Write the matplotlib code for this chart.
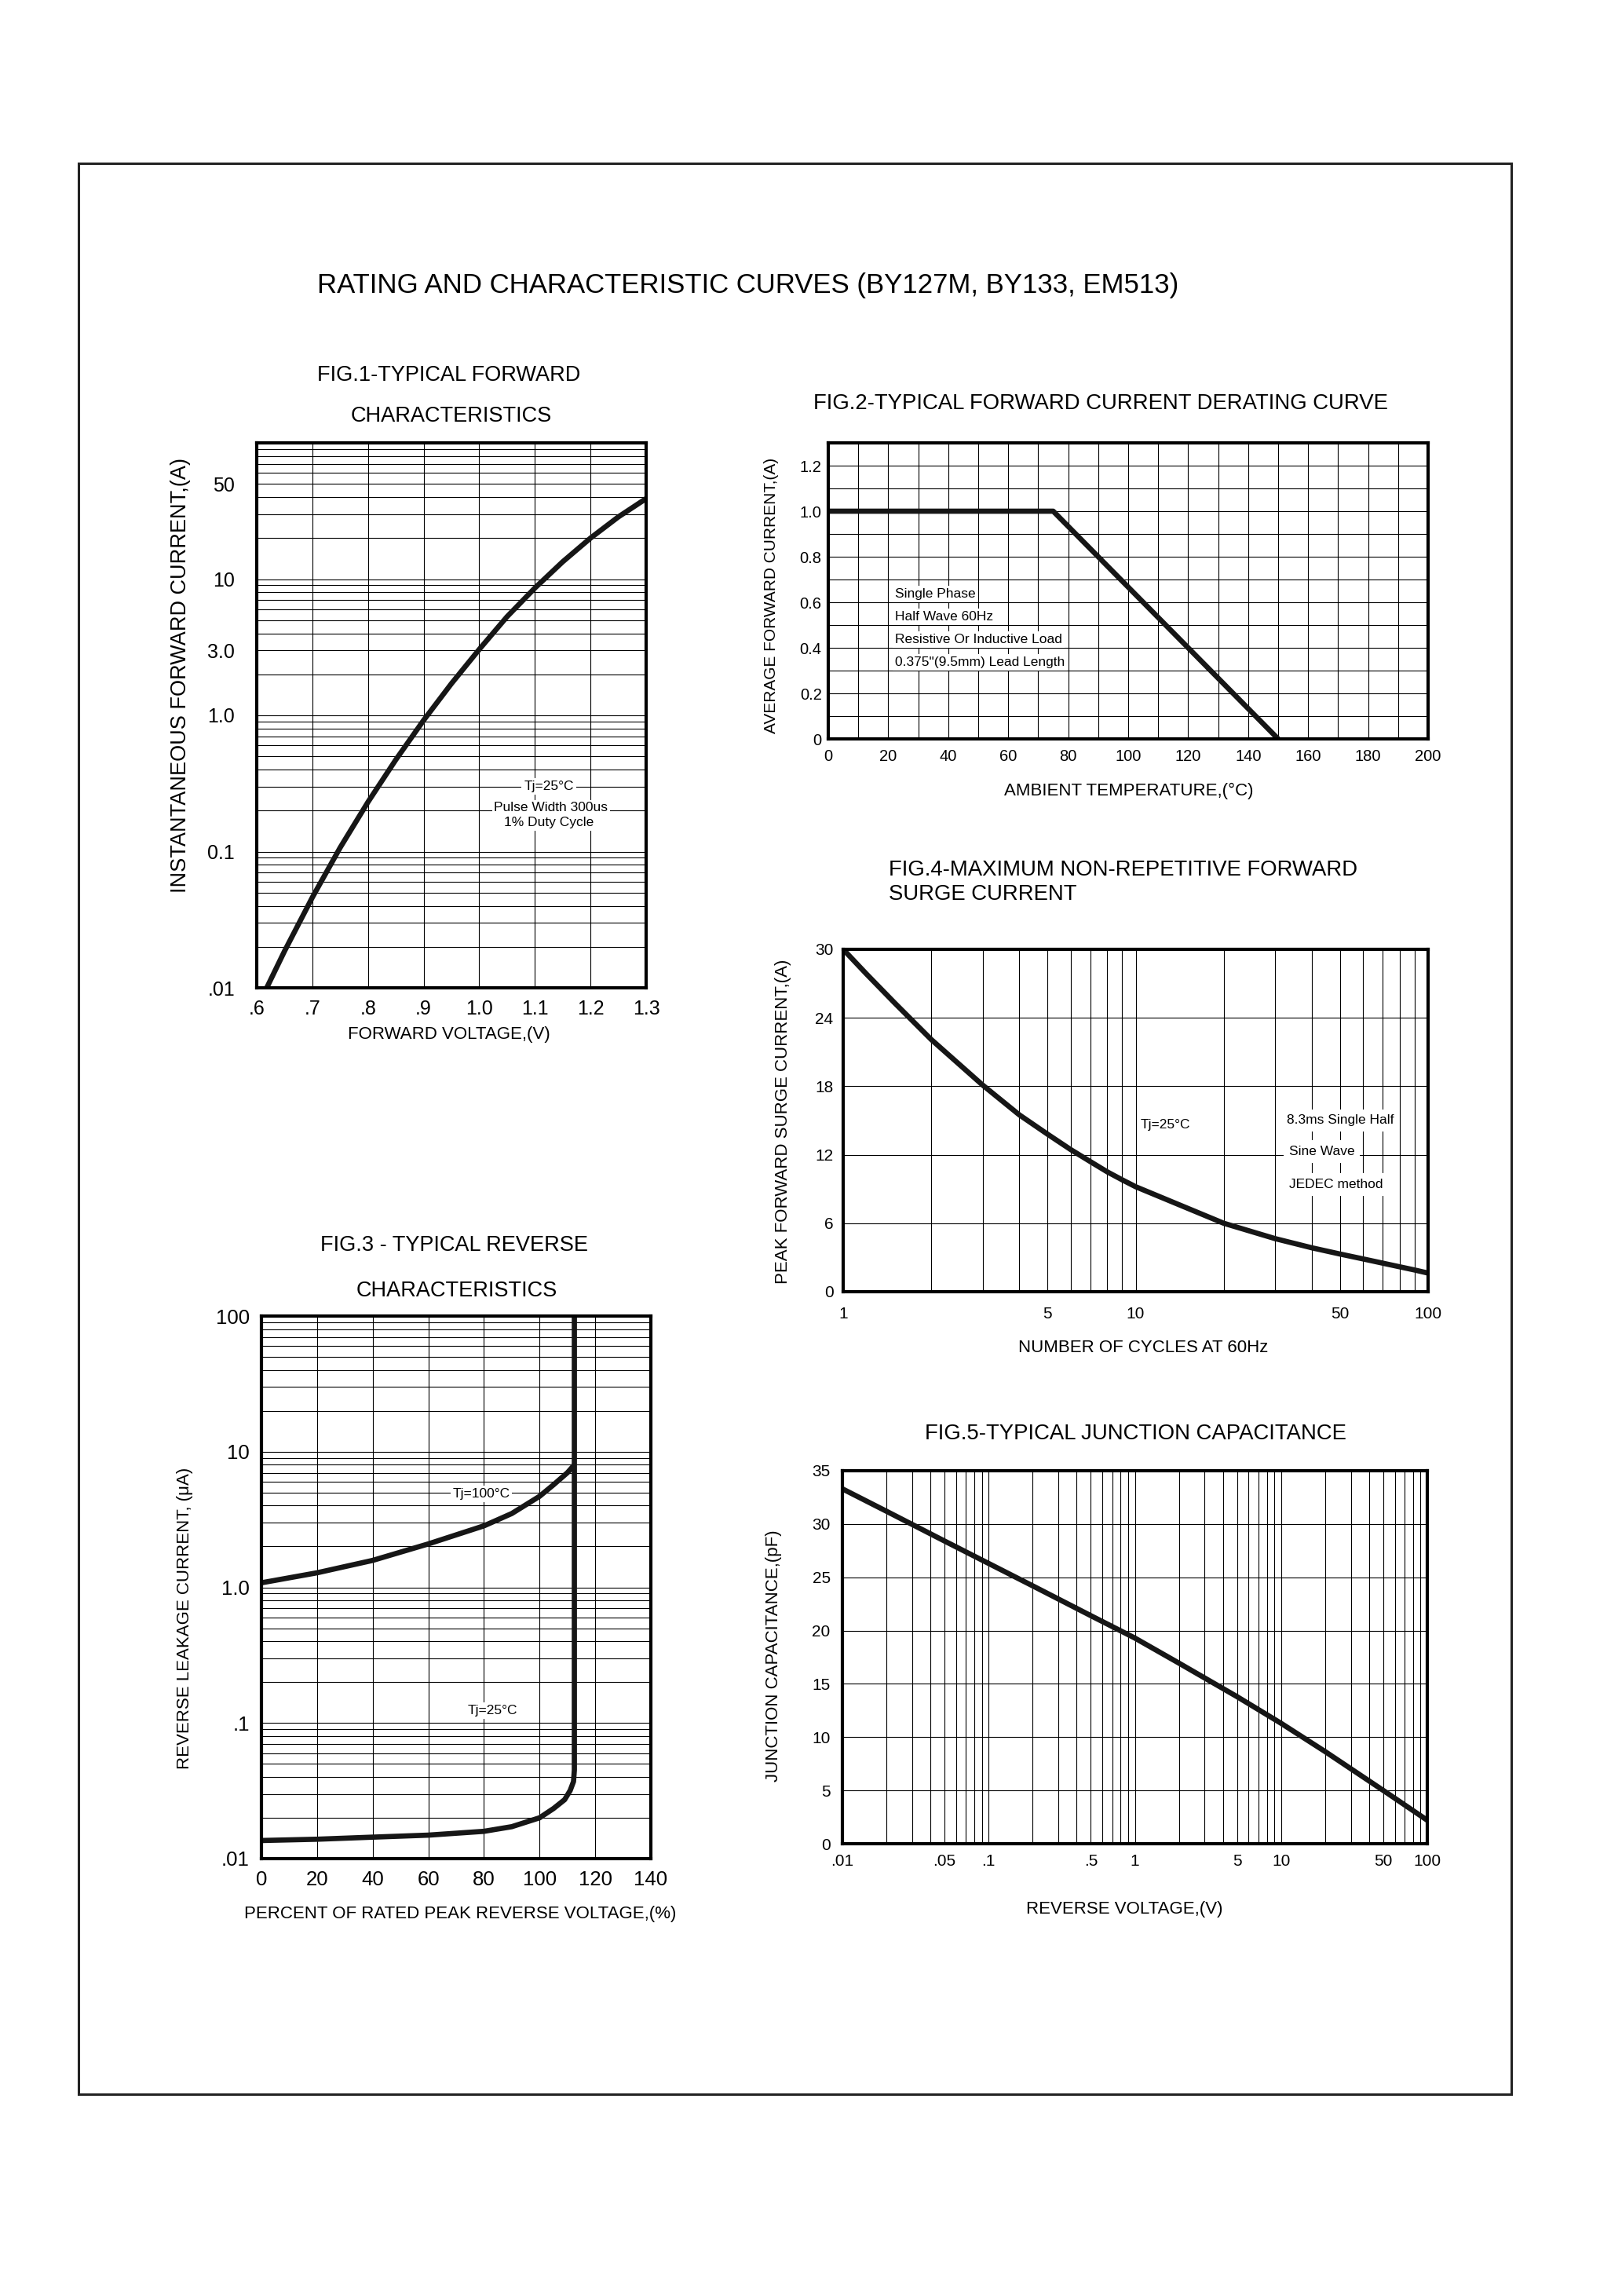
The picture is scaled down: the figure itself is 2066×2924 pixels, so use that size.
import matplotlib
matplotlib.use("Agg")
import matplotlib.pyplot as plt
from matplotlib.patches import Rectangle
from matplotlib.ticker import LogLocator, NullFormatter

plt.rcParams['font.family'] = ['Liberation Sans', 'DejaVu Sans']

W, H = 2066, 2924

main_title = "RATING AND CHARACTERISTIC CURVES (BY127M, BY133, EM513)"

# fig.1 forward characteristics
fwd_v = [0.618, 0.65, 0.7, 0.75, 0.8, 0.85, 0.9, 0.95, 1.0, 1.05, 1.1, 1.15, 1.2, 1.25, 1.3]
fwd_i = [0.010, 0.0186, 0.0461, 0.107, 0.231, 0.472, 0.92, 1.71, 3.05, 5.3, 8.6, 13.4, 20.0, 28.6, 39.0]
fwd_xticks = [0.6, 0.7, 0.8, 0.9, 1.0, 1.1, 1.2, 1.3]
fwd_xlabels = ['.6', '.7', '.8', '.9', '1.0', '1.1', '1.2', '1.3']
fwd_yticks = [0.01, 0.1, 1, 3, 10, 50]
fwd_ylabels = ['.01', '0.1', '1.0', '3.0', '10', '50']

# fig.2 derating
derate_t = [0, 75, 150]
derate_i = [1.0, 1.0, 0.0]
derate_notes = ["Single Phase", "Half Wave 60Hz", "Resistive Or Inductive Load",
                "0.375\"(9.5mm) Lead Length"]

# fig.3 reverse characteristics
rev_pct_100 = [0, 20, 40, 60, 80, 90, 100, 105, 110, 112.5]
rev_i_100 = [1.08, 1.28, 1.58, 2.09, 2.84, 3.5, 4.69, 5.7, 7.0, 8.0]
rev_pct_25 = [0, 20, 40, 60, 80, 90, 100, 105, 109, 111, 112.2, 112.5, 112.5]
rev_i_25 = [0.0136, 0.0139, 0.0144, 0.0149, 0.0159, 0.0172, 0.0200, 0.0234, 0.0272,
            0.0318, 0.037, 0.045, 100]
rev_yticks = [0.01, 0.1, 1, 10, 100]
rev_ylabels = ['.01', '.1', '1.0', '10', '100']

# fig.4 surge current
surge_n = [1, 1.2, 1.5, 2, 3, 4, 5, 6, 7, 8, 9, 10, 20, 30, 40, 50, 60, 70, 80, 90, 100]
surge_a = [30.0, 27.85, 25.3, 22.1, 18.1, 15.5, 13.8, 12.45, 11.4, 10.5, 9.8, 9.2,
           6.0, 4.65, 3.85, 3.3, 2.87, 2.5, 2.18, 1.9, 1.63]
surge_xticks = [1, 5, 10, 50, 100]
surge_minor = [2, 3, 4, 6, 7, 8, 9, 20, 30, 40, 60, 70, 80, 90]

# fig.5 junction capacitance
cap_v = [0.01, 0.02, 0.05, 0.1, 0.2, 0.5, 1, 2, 5, 10, 20, 50, 100]
cap_pf = [33.3, 31.2, 28.4, 26.3, 24.2, 21.4, 19.3, 16.95, 13.8, 11.3, 8.65, 5.0, 2.2]
cap_xticks = [0.01, 0.05, 0.1, 0.5, 1, 5, 10, 50, 100]
cap_xlabels = ['.01', '.05', '.1', '.5', '1', '5', '10', '50', '100']

fig = plt.figure(figsize=(W / 100, H / 100), dpi=100)


def box(x0, y0, x1, y1):
    return fig.add_axes([x0 / W, 1 - y1 / H, (x1 - x0) / W, (y1 - y0) / H])


def ftext(x, y, s, **kw):
    kw.setdefault('ha', 'center')
    kw.setdefault('va', 'center')
    fig.text(x / W, 1 - y / H, s, **kw)


def style(ax, size, xpad, ypad):
    for sp in ax.spines.values():
        sp.set_linewidth(3)
    ax.tick_params(which='both', length=0, labelsize=size)
    ax.tick_params(axis='x', pad=xpad)
    ax.tick_params(axis='y', pad=ypad)
    ax.grid(which='both', color='black', lw=0.8)
    ax.set_axisbelow(True)


white = dict(facecolor='white', edgecolor='none', pad=2)
curve = dict(color='#161616', lw=4.8, solid_capstyle='butt', solid_joinstyle='round')

fig.add_artist(Rectangle((99.5 / W, 1 - 2667 / H), (1925 - 99.5) / W, (2667 - 208) / H,
                         transform=fig.transFigure, fill=False, lw=2.2, ec='#222222'))
ftext(953, 364, main_title, fontsize=25)

# ---- fig 1
ax1 = box(327, 564, 823, 1258)
ax1.set_yscale('log')
ax1.set_xlim(0.6, 1.3)
ax1.set_ylim(0.01, 100)
ax1.set_xticks(fwd_xticks, fwd_xlabels)
ax1.set_yticks(fwd_yticks, fwd_ylabels)
ax1.yaxis.set_minor_locator(LogLocator(subs=range(2, 10)))
ax1.yaxis.set_minor_formatter(NullFormatter())
style(ax1, 18, 11, 20)
ax1.plot(fwd_v, fwd_i, **curve)
ax1.text(1.125, 0.30, "Tj=25°C", fontsize=12.5, ha='center', va='center', bbox=white)
ax1.text(1.129, 0.209, "Pulse Width 300us", fontsize=12.5, ha='center', va='center', bbox=white)
ax1.text(1.125, 0.164, "1% Duty Cycle", fontsize=12.5, ha='center', va='center', bbox=white)
ftext(572, 478, "FIG.1-TYPICAL FORWARD", fontsize=19.5)
ftext(575, 530, "CHARACTERISTICS", fontsize=19.5)
ftext(572, 1317, "FORWARD VOLTAGE,(V)", fontsize=16)
ftext(230, 860, "INSTANTANEOUS FORWARD CURRENT,(A)", fontsize=19.5, rotation=90)

# ---- fig 2
ax2 = box(1055, 564, 1819, 941)
ax2.set_xlim(0, 200)
ax2.set_ylim(0, 1.3)
ax2.set_xticks(range(0, 201, 20))
ax2.set_xticks(range(0, 201, 10), minor=True)
ax2.set_yticks([0, 0.2, 0.4, 0.6, 0.8, 1.0, 1.2], ['0', '0.2', '0.4', '0.6', '0.8', '1.0', '1.2'])
ax2.set_yticks([0.1 * k for k in range(14)], minor=True)
style(ax2, 14.5, 9, 6)
ax2.plot(derate_t, derate_i, **curve)
for k, s in enumerate(derate_notes):
    ax2.text(22.3, 0.636 - 0.1 * k, s, fontsize=12.5, ha='left', va='center', bbox=white)
ftext(1402, 514, "FIG.2-TYPICAL FORWARD CURRENT DERATING CURVE", fontsize=19.8)
ftext(1438, 1007, "AMBIENT TEMPERATURE,(°C)", fontsize=16)
ftext(983, 758, "AVERAGE FORWARD CURRENT,(A)", fontsize=15, rotation=90)

# ---- fig 4
ax4 = box(1074, 1209, 1819, 1645)
ax4.set_xscale('log')
ax4.set_xlim(1, 100)
ax4.set_ylim(0, 30)
ax4.set_xticks(surge_xticks, [str(v) for v in surge_xticks])
ax4.set_xticks(surge_minor, minor=True)
ax4.xaxis.set_minor_formatter(NullFormatter())
ax4.set_yticks(range(0, 31, 6))
style(ax4, 15, 14, 9)
ax4.plot(surge_n, surge_a, **curve)
ax4.text(10.4, 14.6, "Tj=25°C", fontsize=12.5, ha='left', va='center', bbox=white)
ax4.text(32.8, 15.0, "8.3ms Single Half", fontsize=12.5, ha='left', va='center', bbox=dict(white, pad=5))
ax4.text(33.4, 12.3, "Sine Wave", fontsize=12.5, ha='left', va='center', bbox=dict(white, pad=5))
ax4.text(33.4, 9.4, "JEDEC method", fontsize=12.5, ha='left', va='center', bbox=dict(white, pad=5))
ftext(1132, 1108, "FIG.4-MAXIMUM NON-REPETITIVE FORWARD", fontsize=19.8, ha='left')
ftext(1132, 1139, "SURGE CURRENT", fontsize=19.8, ha='left')
ftext(1456, 1716, "NUMBER OF CYCLES AT 60Hz", fontsize=16)
ftext(997, 1428, "PEAK FORWARD SURGE CURRENT,(A)", fontsize=16, rotation=90)

# ---- fig 3
ax3 = box(333, 1676, 829, 2367)
ax3.set_yscale('log')
ax3.set_xlim(0, 140)
ax3.set_ylim(0.01, 100)
ax3.set_xticks(range(0, 141, 20))
ax3.set_yticks(rev_yticks, rev_ylabels)
ax3.yaxis.set_minor_locator(LogLocator(subs=range(2, 10)))
ax3.yaxis.set_minor_formatter(NullFormatter())
style(ax3, 18.5, 11, 11)
ax3.plot(rev_pct_100, rev_i_100, **curve)
ax3.plot(rev_pct_25, rev_i_25, **curve)
ax3.text(79, 4.9, "Tj=100°C", fontsize=12.5, ha='center', va='center', bbox=white)
ax3.text(83.2, 0.123, "Tj=25°C", fontsize=12.5, ha='center', va='center', bbox=white)
ftext(578, 1586, "FIG.3 - TYPICAL REVERSE", fontsize=19.5)
ftext(582, 1644, "CHARACTERISTICS", fontsize=19.5)
ftext(586, 2438, "PERCENT OF RATED PEAK REVERSE VOLTAGE,(%)", fontsize=16)
ftext(235, 2061, "REVERSE LEAKAGE CURRENT, (\u03bcA)", fontsize=16, rotation=90)

# ---- fig 5
ax5 = box(1073, 1873, 1818, 2348)
ax5.set_xscale('log')
ax5.set_xlim(0.01, 100)
ax5.set_ylim(0, 35)
ax5.set_xticks(cap_xticks, cap_xlabels)
ax5.xaxis.set_minor_locator(LogLocator(subs=range(2, 10)))
ax5.xaxis.set_minor_formatter(NullFormatter())
ax5.set_yticks(range(0, 36, 5))
style(ax5, 15, 9, 11)
ax5.plot(cap_v, cap_pf, **curve)
ftext(1446, 1826, "FIG.5-TYPICAL JUNCTION CAPACITANCE", fontsize=19.8)
ftext(1432, 2432, "REVERSE VOLTAGE,(V)", fontsize=16)
ftext(986, 2109, "JUNCTION CAPACITANCE,(pF)", fontsize=16, rotation=90)

fig.savefig("out.png", dpi=100, facecolor='white')
